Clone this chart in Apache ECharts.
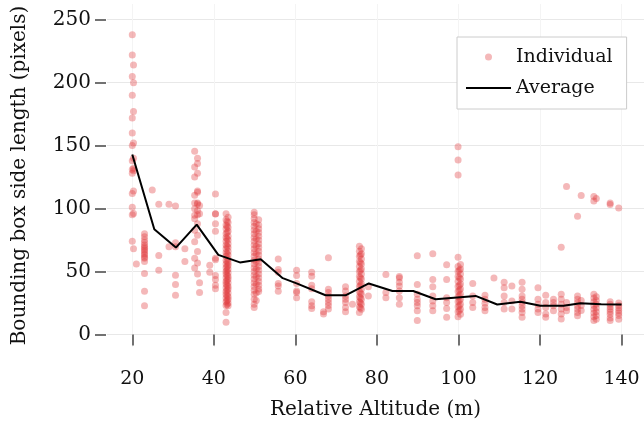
<!DOCTYPE html>
<html>
<head>
<meta charset="utf-8">
<script src="https://cdn.jsdelivr.net/npm/echarts@6/dist/echarts.min.js"></script>
<style>
html,body{margin:0;padding:0;background:#fff;}
#chart{width:644px;height:425px;}
</style>
</head>
<body>
<div id="chart"></div>
<script>
// Altitude of each observed column (m)
const altitudes = [
  20.0, 20.3, 21.0, 23.0, 24.9, 26.5, 29.0, 30.6, 32.9, 35.3, 36.0, 36.5,
  39.0, 40.4, 43.0, 43.5, 43.25, 49.9, 51.0, 50.4, 55.8, 60.3, 64.0, 66.9, 68.1, 72.3,
  74.0, 75.7, 76.2, 75.95, 77.9, 82.2, 85.5, 89.9, 93.7, 97.1, 99.9, 100.5, 100.2, 103.5,
  106.5, 108.7, 111.2, 113.1, 115.6, 119.5, 121.4, 123.3, 125.2, 126.5, 129.2,
  130.1, 133.2, 133.8, 137.2, 139.3
];
// Bounding box side lengths (pixels) observed at each altitude
const lengths = [
  [238, 222, 205, 190, 172, 160, 150, 138, 131, 128, 112, 101, 95, 74],
  [214, 200, 177, 152, 140, 132, 130, 114, 96, 68],
  [56],
  [80, 77.6, 75, 73, 71, 69.7, 68.4, 67, 65.8, 64, 63, 61.3, 60.5, 58, 48.4, 34.2, 22.7],
  [114.7],
  [103.5, 62.7, 51],
  [103.4, 69.7],
  [102, 72.9, 69.7, 47, 39.7, 31.1],
  [68, 58],
  [145.5, 133, 125, 110.5, 104.5, 99.8, 94.6, 91.9, 82.8, 73.7, 60.6, 52.7],
  [140, 135.8, 128, 114, 113, 104.5, 103.7, 98.5, 95, 88, 78.8, 65.8, 56.7, 48],
  [102.4, 95.8, 41, 33.2],
  [54.9, 49.4],
  [111.5, 95.6, 95.8, 88, 82, 60.6, 59.3, 46.8, 43.6, 39, 36.3],
  [95.8, 91, 87, 84, 80, 77, 74, 71, 68, 65, 62, 59, 56, 53, 50, 48, 45, 42, 40, 37, 34, 32, 29, 26, 23, 17.5, 9.6],
  [93, 89, 85, 82, 78, 75, 72, 69, 66, 63, 60, 57, 55, 52, 49, 46, 44, 41, 38, 36, 33, 30, 28, 25, 22.7],
  [90, 86, 81, 76, 70, 64, 58, 54, 51, 47, 43, 39, 35, 31, 27, 24],
  [97, 95, 92, 89, 86, 83, 80, 77, 74, 71, 68, 65, 62, 59, 56, 53, 50, 47, 44, 41, 38, 35, 32, 28, 24, 21.4],
  [91, 87, 84, 81, 78, 75, 72, 69, 66, 63, 60, 57, 54, 51, 48, 45, 42, 39, 36, 34],
  [88, 82, 76, 70, 64, 58, 52, 46, 40, 33, 27],
  [60, 51.5, 49.4, 40.5, 38.4, 34.2],
  [51, 46.8, 40.5, 34.5, 33.2, 29.2],
  [49.4, 46.2, 39, 36.3, 25.9, 22.7, 20.6],
  [18, 16.2],
  [60.9, 35.8, 33.2, 30.6, 28, 25.4, 22.9, 20.1],
  [37.9, 34.5, 30.6, 28, 25.3, 21.4, 18],
  [24],
  [70, 66, 62, 58, 54, 50, 46, 42, 38, 34, 30, 26, 22, 17.5],
  [68, 64, 60, 56, 52, 48, 44, 40, 36, 32, 28, 24, 20],
  [63, 57, 51, 45, 39, 33, 29, 25, 21],
  [37.9, 30.6],
  [47.6, 33.2, 29.2],
  [46, 44.9, 41.5, 38.4, 34.5, 29.2, 24],
  [62.4, 39.7, 31.9, 28, 25.3, 22.7, 18.8, 11],
  [64, 43.6, 37.9, 30.6, 26.6, 22.7, 18.8],
  [55.4, 43.6, 29.2, 25.3, 20.6, 13.6],
  [149, 138.5, 126.7, 61.4, 54, 50, 46, 42, 38, 34, 30, 26, 22, 18, 14],
  [55.6, 52, 48, 44, 40, 36, 32, 28, 24, 20, 16],
  [51, 45, 39, 35, 31, 27, 23, 19],
  [40.5, 30.6, 25.3, 21.4],
  [31.1, 28, 24.8, 21.4, 18.8],
  [44.9],
  [41.5, 37.1, 30.6, 25.3, 20.1],
  [38.4, 26.6, 20.1],
  [41.5, 35.8, 30.6, 28, 25.3, 22.7, 20.1, 17.5, 13.6],
  [37.1, 28, 24, 20.1, 17.5],
  [31.1, 25.3, 21.4, 16.2, 13.6],
  [28, 25.3, 22.7, 18.8],
  [69.2, 31.9, 28, 24, 20.1, 16.2, 12.3],
  [117.6, 25.3, 21.4, 18.8],
  [93.8, 30.6, 28, 25.3, 22.7, 20.1, 17.5, 14.9],
  [110.3, 27, 23, 19],
  [109.5, 106, 32, 29, 26, 23, 20, 17, 14, 11],
  [108, 30, 27, 24, 21, 18, 15, 12],
  [104.5, 103.2, 26, 24, 22, 20, 18, 16, 13, 11],
  [100.5, 25, 23, 21, 19, 17, 15, 12]
];
// Average line
const avgAlt = [20, 25.4, 30.7, 35.8, 41.1, 46.4, 51.5, 56.9, 60.3, 67.4, 72.3, 78.0, 83.8, 88.9, 94.4, 98.9, 104.2, 109.5, 115.2, 120.1, 125.8, 129.9, 135.0, 140.0];
const avgVal = [143, 83.6, 69, 87.2, 63.2, 57.2, 59.8, 44.7, 40.5, 31.1, 31.1, 40.5, 34.5, 34.5, 27.9, 29.2, 30.6, 23.8, 25.9, 22.7, 22.7, 24.8, 24.0, 23.8];
// Tick labels
const xTicks = [20, 40, 60, 80, 100, 120, 140];
const yTicks = [0, 50, 100, 150, 200, 250];

const individual = [];
altitudes.forEach((a, i) => lengths[i].forEach(v => individual.push([a, v])));
const average = avgAlt.map((a, i) => [a, avgVal[i]]);

const FONT = 'DejaVu Serif';
const chart = echarts.init(document.getElementById('chart'), null, {renderer: 'canvas'});
chart.setOption({
  animation: false,
  backgroundColor: '#ffffff',
  grid: {left: 107, right: 0, top: 4, bottom: 73, containLabel: false},
  legend: {
    show: true,
    orient: 'vertical',
    left: 457, top: 37,
    padding: [10, 14, 11, 9],
    borderColor: '#cccccc', borderWidth: 1,
    backgroundColor: '#ffffff',
    itemWidth: 45, itemHeight: 7, itemGap: 11,
    textStyle: {fontFamily: FONT, fontSize: 19, color: '#111', lineHeight: 20},
    data: [
      {name: 'Individual', icon: 'circle'},
      {name: 'Average', icon: 'path://M0,0H45V2H0Z', itemStyle: {color: '#000'}}
    ]
  },
  xAxis: {
    type: 'value', min: 13.8, max: 145.5, offset: 3,
    axisLine: {show: false},
    axisTick: {show: true, length: 11, customValues: xTicks, lineStyle: {color: '#444', width: 1.5}},
    axisLabel: {customValues: xTicks, margin: 20, fontFamily: FONT, fontSize: 19, color: '#111'},
    splitLine: {show: true, lineStyle: {color: '#f4f4f4', width: 1}},
    name: 'Relative Altitude (m)', nameLocation: 'middle', nameGap: 50,
    nameTextStyle: {fontFamily: FONT, fontSize: 20, color: '#111'}
  },
  yAxis: {
    type: 'value', min: -10, max: 262.5, offset: 1,
    axisLine: {show: false},
    axisTick: {show: true, length: 11, customValues: yTicks, lineStyle: {color: '#444', width: 1.5}},
    axisLabel: {customValues: yTicks, margin: 15, fontFamily: FONT, fontSize: 20, color: '#111'},
    splitLine: {show: true, lineStyle: {color: '#e8e8e8', width: 1}},
    name: 'Bounding box side length (pixels)', nameLocation: 'middle', nameGap: 76, nameRotate: 90,
    nameTextStyle: {fontFamily: FONT, fontSize: 20, color: '#111'}
  },
  series: [
    {
      name: 'Individual', type: 'scatter', data: individual,
      symbol: 'circle', symbolSize: 7,
      itemStyle: {color: 'rgba(224,57,62,0.45)'},
      z: 2
    },
    {
      name: 'Average', type: 'line', data: average,
      symbol: 'none', showSymbol: false,
      lineStyle: {color: '#000', width: 2},
      itemStyle: {color: '#000'},
      z: 3
    }
  ]
});
</script>
</body>
</html>
